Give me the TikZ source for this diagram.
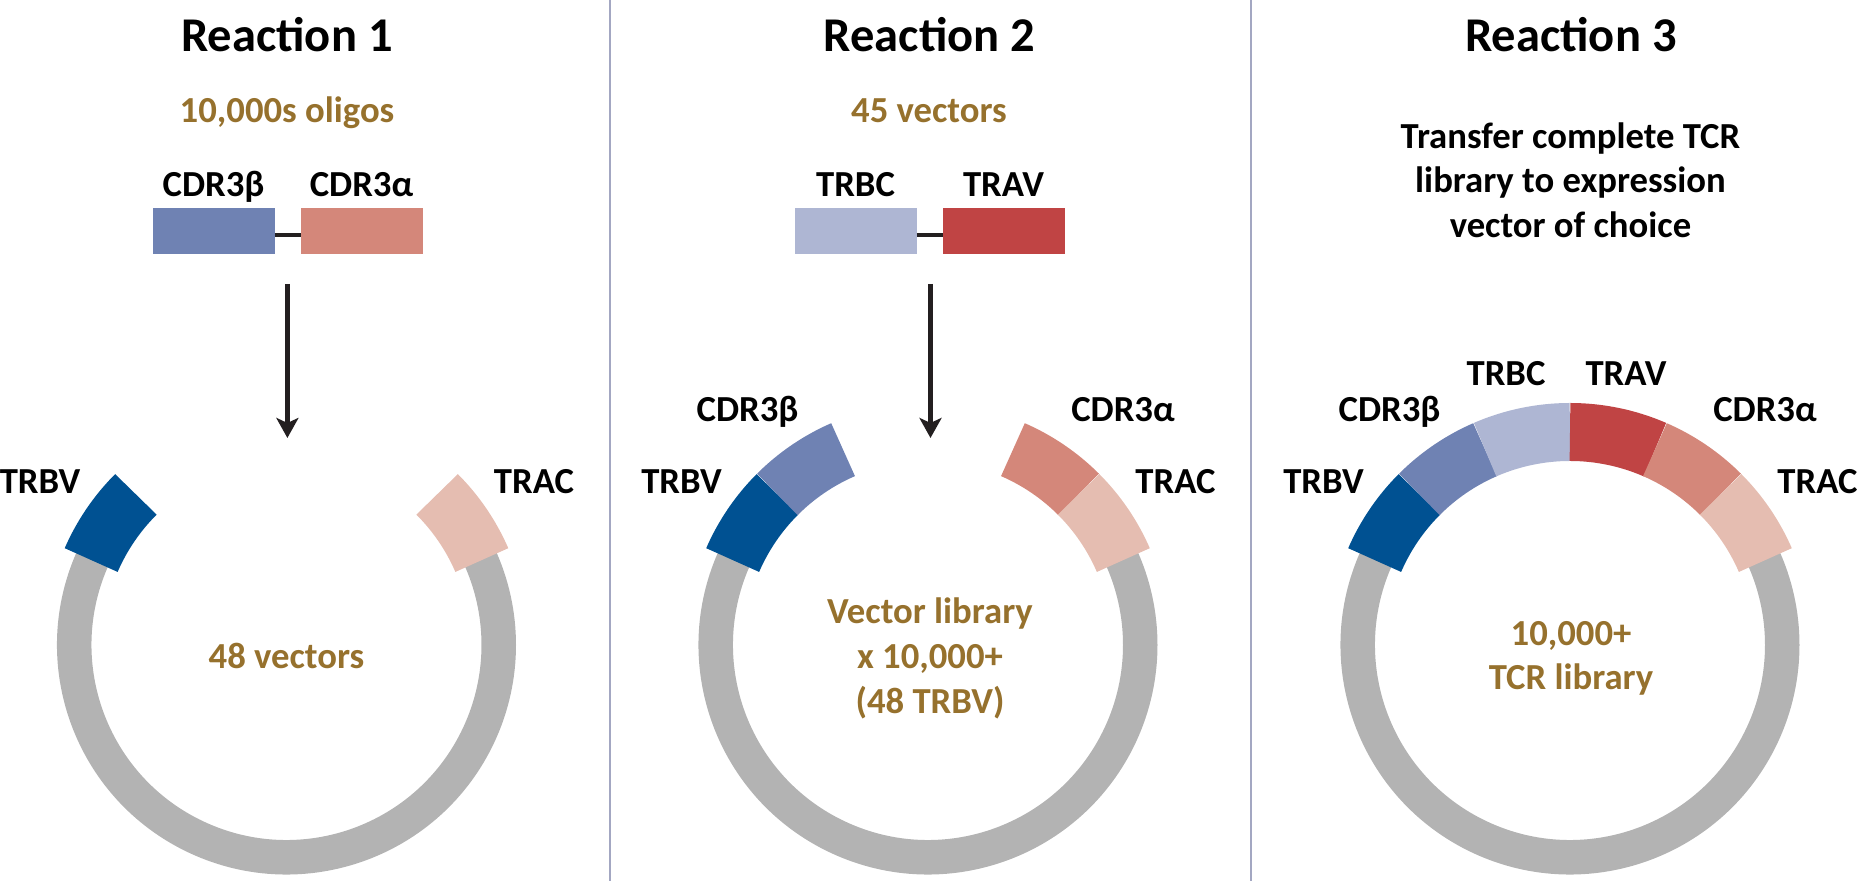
\documentclass[tikz,border=0pt]{standalone}
\usepackage{fontspec}
\setmainfont{Carlito}
\usetikzlibrary{positioning,arrows.meta}

\definecolor{ink}{RGB}{35,31,32}
\definecolor{gold}{RGB}{150,113,45}
\definecolor{ringgray}{RGB}{179,179,179}
\definecolor{sepcol}{RGB}{163,167,194}
\definecolor{trbv}{RGB}{0,81,146}
\definecolor{cdrb}{RGB}{111,130,179}
\definecolor{trbc}{RGB}{174,182,211}
\definecolor{trav}{RGB}{192,68,68}
\definecolor{cdra}{RGB}{212,135,122}
\definecolor{trac}{RGB}{229,189,177}

\newcommand{\segarc}[3]{\draw[seg,#3] (#1:2.13) arc[start angle=#1,end angle=#2,radius=2.13];}

\begin{document}
\begin{tikzpicture}
\tikzstyle{every node}=[inner sep=0pt,outer sep=0pt]
\tikzstyle{heading}=[font=\fontsize{13.8}{16.5}\selectfont\bfseries,anchor=base]
\tikzstyle{count}=[font=\fontsize{10.44}{12.8}\selectfont\bfseries,text=gold,anchor=base,align=center]
\tikzstyle{gene}=[font=\fontsize{10.44}{12.8}\selectfont\bfseries,anchor=base]
\tikzstyle{insert}=[minimum width=1.22cm,minimum height=0.457cm]
\tikzstyle{linker}=[line width=1.1pt,draw=ink]
\tikzstyle{flow}=[line width=1.3pt,draw=ink,-{Stealth[length=2mm,width=2.2mm,inset=0.5mm]}]
\tikzstyle{backbone}=[line width=3.45mm,draw=ringgray]
\tikzstyle{seg}=[line width=5.8mm]
\tikzstyle{divider}=[line width=0.6pt,draw=sepcol]

\useasboundingbox (0,0) rectangle (18.58,8.81);

% dividers
\coordinate (d1t) at (6.10,8.81); \coordinate (d1b) at (6.10,0);
\coordinate (d2t) at (12.51,8.81); \coordinate (d2b) at (12.51,0);
\draw[divider] (d1t) -- (d1b);
\draw[divider] (d2t) -- (d2b);

% reaction 1
\node[heading] (h1) at (2.87,8.293) {Reaction 1};
\node[count] (n1) at (2.87,7.583) {10,000s oligos};
\node[insert,fill=cdrb] (r1b) at (2.135,6.4985) {};
\node[insert,fill=cdra,right=0.26cm of r1b] (r1a) {};
\node[gene,above=1.13mm of r1b.north,anchor=base] (l1b) {CDR3β};
\node[gene,above=1.13mm of r1a.north,anchor=base] (l1a) {CDR3α};
\draw[linker] ([yshift=-0.4mm]r1b.east) -- ([yshift=-0.4mm]r1a.west);
\coordinate (f1s) at (2.874,5.97);
\coordinate (f1e) at (2.874,4.43);
\draw[flow] (f1s) -- (f1e);
\begin{scope}[shift={(2.865,2.36)}]
\draw[backbone] (155:2.1225) arc[start angle=155,end angle=385,radius=2.1225];
\segarc{156.5}{135}{trbv}
\segarc{45}{23.5}{trac}
\node[gene] (v1trbv) at (-2.465,1.517) {TRBV};
\node[gene] (v1trac) at (2.475,1.517) {TRAC};
\node[count] (v1txt) at (0,-0.233) {48 vectors};
\end{scope}

% reaction 2
\node[heading] (h2) at (9.295,8.293) {Reaction 2};
\node[count] (n2) at (9.29,7.583) {45 vectors};
\node[insert,fill=trbc] (r2b) at (8.555,6.4985) {};
\node[insert,fill=trav,right=0.26cm of r2b] (r2a) {};
\node[gene,above=1.13mm of r2b.north,anchor=base] (l2b) {TRBC};
\node[gene,above=1.13mm of r2a.north,anchor=base] (l2a) {TRAV};
\draw[linker] ([yshift=-0.4mm]r2b.east) -- ([yshift=-0.4mm]r2a.west);
\coordinate (f2s) at (9.305,5.97);
\coordinate (f2e) at (9.305,4.43);
\draw[flow] (f2s) -- (f2e);
\begin{scope}[shift={(9.28,2.36)}]
\draw[backbone] (155:2.1225) arc[start angle=155,end angle=385,radius=2.1225];
\segarc{156.5}{135}{trbv}
\segarc{135}{113.5}{cdrb}
\segarc{66.5}{45}{cdra}
\segarc{45}{23.5}{trac}
\node[gene] (v2trbv) at (-2.465,1.517) {TRBV};
\node[gene] (v2trac) at (2.475,1.517) {TRAC};
\node[gene] (v2cdrb) at (-1.805,2.233) {CDR3β};
\node[gene] (v2cdra) at (1.95,2.233) {CDR3α};
\node[count] (v2txt) at (0.02,-0.683) {Vector library\\x 10,000+\\(48 TRBV)};
\end{scope}

% reaction 3
\node[heading] (h3) at (15.71,8.293) {Reaction 3};
\node[gene,align=center,font=\fontsize{10.44}{12.7}\selectfont\bfseries] (n3) at (15.705,6.437) {Transfer complete TCR\\library to expression\\vector of choice};
\begin{scope}[shift={(15.70,2.36)}]
\draw[backbone] (155:2.1225) arc[start angle=155,end angle=385,radius=2.1225];
\segarc{156.5}{135}{trbv}
\segarc{135}{113.5}{cdrb}
\segarc{113.5}{90}{trbc}
\segarc{90}{66.5}{trav}
\segarc{66.5}{45}{cdra}
\segarc{45}{23.5}{trac}
\node[gene] (v3trbv) at (-2.465,1.517) {TRBV};
\node[gene] (v3trac) at (2.475,1.517) {TRAC};
\node[gene] (v3cdrb) at (-1.805,2.233) {CDR3β};
\node[gene] (v3cdra) at (1.95,2.233) {CDR3α};
\node[gene] (v3trbc) at (-0.64,2.59) {TRBC};
\node[gene] (v3trav) at (0.56,2.59) {TRAV};
\node[count] (v3txt) at (0.01,-0.45) {10,000+\\TCR library};
\end{scope}
\end{tikzpicture}
\end{document}
